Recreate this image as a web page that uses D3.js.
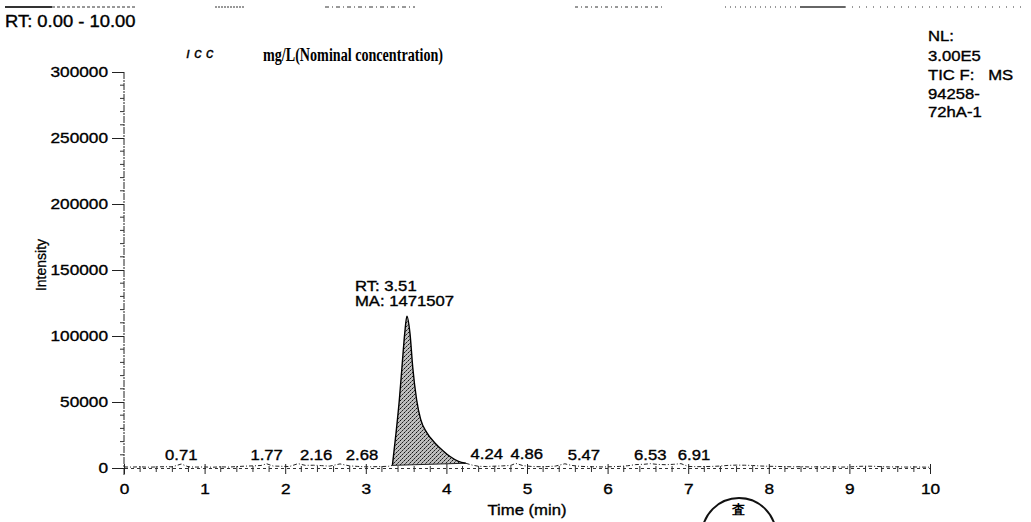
<!DOCTYPE html>
<html>
<head>
<meta charset="utf-8">
<script src="https://cdn.jsdelivr.net/npm/d3@7"></script>
<style>
  html, body { margin: 0; padding: 0; background: #fff; }
  svg { display: block; }
  text { font-family: "Liberation Sans", Arial, sans-serif; fill: #000; white-space: pre; }
</style>
</head>
<body>
<svg id="chart" width="1031" height="522"></svg>
<script>
// Total ion chromatogram, RT 0-10 min
const traceTime = [
  0.00, 0.10, 0.20, 0.30, 0.40, 0.50, 0.60, 0.71, 0.80, 0.90,
  1.00, 1.10, 1.20, 1.30, 1.40, 1.50, 1.60, 1.70, 1.77, 1.85,
  1.95, 2.05, 2.16, 2.25, 2.35, 2.45, 2.55, 2.68, 2.80, 2.90,
  3.00, 3.10, 3.20, 3.28, 3.33, 3.375, 3.416, 3.449, 3.483, 3.51,
  3.548, 3.582, 3.631, 3.68, 3.755, 3.857, 3.95, 4.05, 4.15, 4.24,
  4.32, 4.40, 4.50, 4.60, 4.70, 4.80, 4.86, 4.95, 5.05, 5.15,
  5.25, 5.35, 5.47, 5.55, 5.65, 5.75, 5.85, 5.95, 6.05, 6.15,
  6.25, 6.35, 6.45, 6.53, 6.62, 6.72, 6.82, 6.91, 7.00, 7.10,
  7.20, 7.30, 7.40, 7.50, 7.60, 7.70, 7.80, 7.90, 8.00, 8.10,
  8.20, 8.30, 8.40, 8.50, 8.60, 8.70, 8.80, 8.90, 9.00, 9.10,
  9.20, 9.30, 9.40, 9.50, 9.60, 9.70, 9.80, 9.90, 10.00
];
const traceIntensity = [
  800, 700, 900, 600, 800, 1000, 900, 3000, 900, 700,
  800, 600, 900, 700, 1100, 1400, 1600, 1900, 3200, 1500,
  1300, 1100, 3300, 2000, 2100, 1800, 1400, 3100, 1600, 1200,
  900, 1000, 1100, 1300, 2000, 26500, 51500, 76500, 102000, 115000,
  102000, 76500, 51500, 37000, 27000, 19000, 13500, 8500, 5000, 3600,
  2200, 1300, 1100, 1400, 1600, 2000, 3500, 1800, 1200, 1000,
  1100, 1400, 3200, 2000, 1300, 1000, 900, 800, 1000, 1200,
  1700, 2600, 2800, 3300, 2700, 2500, 2800, 3300, 1200, 1000,
  1100, 1200, 1500, 2000, 2200, 2100, 1900, 1500, 1300, 1200,
  1000, 900, 1000, 800, 900, 800, 900, 700, 800, 1200,
  1400, 1300, 1000, 800, 900, 700, 800, 700, 600
];

// Labelled retention times of the minor peaks
const peakLabelTimes = [0.71, 1.77, 2.16, 2.68, 4.24, 4.86, 5.47, 6.53, 6.91];

// Main peak annotation
const mainPeakRT = 3.51;
const mainPeakArea = 1471507;
const integStart = 3.33, integEnd = 4.24;

// Axis ticks
const xTicks = [0, 1, 2, 3, 4, 5, 6, 7, 8, 9, 10];
const yTicks = [0, 50000, 100000, 150000, 200000, 250000, 300000];

// Header / side texts
const rangeLabel = "RT: 0.00 - 10.00";
const noteHand = "ı c c";
const noteTyped = "mg/L(Nominal concentration)";
const sideLines = ["NL:", "3.00E5", "TIC F:   MS", "94258-", "72hA-1"];

const SX = 1.15; // horizontal stretch of the printed lettering
const svg = d3.select("#chart");

const x = d3.scaleLinear().domain([0, 10]).range([124, 930]);
const y = d3.scaleLinear().domain([0, 300000]).range([468, 72]);

function stretched(g, tx, ty, str, anchor, size) {
  return g.append("text")
    .attr("transform", `translate(${tx},${ty}) scale(${SX},1)`)
    .attr("text-anchor", anchor || "start")
    .attr("font-size", size || 15)
    .attr("stroke", "#000").attr("stroke-width", 0.35)
    .text(str);
}

// stipple fill for the integrated peak
const defs = svg.append("defs");
const pat = defs.append("pattern").attr("id", "stipple")
  .attr("patternUnits", "userSpaceOnUse").attr("width", 4).attr("height", 4);
pat.append("rect").attr("width", 4).attr("height", 4).attr("fill", "#bdbdbd");
pat.append("rect").attr("x", 0).attr("y", 0).attr("width", 1).attr("height", 1).attr("fill", "#111");
pat.append("rect").attr("x", 2).attr("y", 2).attr("width", 1).attr("height", 1).attr("fill", "#222");
pat.append("rect").attr("x", 3).attr("y", 1).attr("width", 1).attr("height", 1).attr("fill", "#666");
pat.append("rect").attr("x", 1).attr("y", 3).attr("width", 1).attr("height", 1).attr("fill", "#555");

// faint remnants of the page header
const frag = svg.append("g").attr("stroke", "#333");
[[5, 52, 2, null], [52, 135, 1, "3,2"], [215, 245, 1, "2,1"], [325, 415, 1, "4,3,1,3"],
 [575, 665, 1, "3,3,1,3"], [725, 800, 1, "1,4"], [800, 845, 1.5, null], [845, 1025, 1, "1,6"]]
  .forEach(([a, b, w, dash]) => {
    frag.append("line").attr("x1", a).attr("x2", b).attr("y1", 7).attr("y2", 7)
      .attr("stroke-width", w).attr("stroke-dasharray", dash);
  });

// header text
stretched(svg, 5, 27, rangeLabel, "start", 16);
svg.append("text").attr("x", 186).attr("y", 58)
  .attr("font-family", "Liberation Serif, serif").attr("font-style", "italic")
  .attr("font-size", 15).attr("stroke", "#000").attr("stroke-width", 0.3).text(noteHand);
svg.append("text").attr("x", 263).attr("y", 61)
  .attr("font-size", 18).attr("font-weight", "bold")
  .attr("textLength", 180).attr("lengthAdjust", "spacingAndGlyphs")
  .style("font-family", "'Liberation Serif', serif").text(noteTyped);

const sideY = [41, 61, 80, 99, 117];
sideLines.forEach((s, i) => stretched(svg, 928, sideY[i], s, "start", 14.5));

// y axis
const yAxis = svg.append("g").attr("transform", `translate(${x(0)},0)`)
  .call(d3.axisLeft(y).tickValues(yTicks).tickFormat(d3.format("d"))
    .tickSize(12).tickPadding(4));
yAxis.select(".domain").remove();
yAxis.append("line").attr("x1", 0).attr("x2", 0).attr("y1", y(300000)).attr("y2", y(0) + 8)
  .attr("stroke", "#222").attr("stroke-dasharray", "7,1,2,1");
yAxis.selectAll(".tick line").attr("stroke", "#222");
yAxis.selectAll(".tick text")
  .attr("font-size", 15).attr("fill", "#000").attr("stroke", "#000").attr("stroke-width", 0.35)
  .attr("font-family", "Liberation Sans, Arial, sans-serif")
  .attr("x", -16 / SX).attr("transform", `scale(${SX},1)`);
// minor y ticks
yAxis.selectAll(".minor").data(d3.range(10000, 300000, 10000).filter(v => v % 50000))
  .enter().append("line").attr("class", "minor")
  .attr("x1", -4).attr("x2", 0).attr("y1", d => y(d)).attr("y2", d => y(d))
  .attr("stroke", "#333");

// x axis
const xAxis = svg.append("g").attr("transform", `translate(0,${y(0)})`)
  .call(d3.axisBottom(x).tickValues(xTicks).tickFormat(d3.format("d"))
    .tickSize(6).tickPadding(9));
xAxis.select(".domain").attr("stroke", "#333").attr("stroke-dasharray", "3,3");
xAxis.selectAll(".tick line").attr("stroke", "#222").attr("y1", -4);
xAxis.selectAll(".tick text")
  .attr("font-size", 15).attr("fill", "#000").attr("stroke", "#000").attr("stroke-width", 0.35)
  .attr("font-family", "Liberation Sans, Arial, sans-serif")
  .attr("transform", `scale(${SX},1)`).attr("x", 0);
// minor x ticks
xAxis.selectAll(".minor").data(d3.range(0.2, 10, 0.2).filter(v => Math.abs(v - Math.round(v)) > 0.01))
  .enter().append("line").attr("class", "minor")
  .attr("x1", d => x(d)).attr("x2", d => x(d)).attr("y1", -2).attr("y2", 4)
  .attr("stroke", "#333");

// axis titles
stretched(svg, x(5), 515, "Time (min)", "middle", 14.5);
svg.append("text").attr("transform", `translate(46,265) rotate(-90)`)
  .attr("text-anchor", "middle").attr("font-size", 14)
  .attr("stroke", "#000").attr("stroke-width", 0.3).text("Intensity");

// chromatogram
const pts = traceTime.map((t, i) => ({ t, v: traceIntensity[i] }));
const line = d3.line().x(d => x(d.t)).y(d => y(d.v));
const smooth = d3.line().x(d => x(d.t)).y(d => y(d.v)).curve(d3.curveMonotoneX);

const peakPts = pts.filter(d => d.t >= integStart && d.t <= integEnd);
const baseA = peakPts[0], baseB = peakPts[peakPts.length - 1];
const baseAt = t => baseA.v + (baseB.v - baseA.v) * (t - baseA.t) / (baseB.t - baseA.t);
const area = d3.area().x(d => x(d.t)).y0(d => y(baseAt(d.t))).y1(d => y(d.v)).curve(d3.curveMonotoneX);
svg.append("path").datum(peakPts).attr("d", area).attr("fill", "url(#stipple)");
svg.append("line").attr("x1", x(baseA.t)).attr("x2", x(baseB.t))
  .attr("y1", y(baseA.v)).attr("y2", y(baseB.v)).attr("stroke", "#222");

svg.append("path").datum(pts.filter(d => d.t <= integStart)).attr("d", line)
  .attr("fill", "none").attr("stroke", "#222").attr("stroke-dasharray", "4,2,1,2");
svg.append("path").datum(pts.filter(d => d.t >= integEnd)).attr("d", line)
  .attr("fill", "none").attr("stroke", "#222").attr("stroke-dasharray", "4,2,1,2");
svg.append("path").datum(peakPts).attr("d", smooth)
  .attr("fill", "none").attr("stroke", "#000").attr("stroke-width", 1.4);

// main peak annotation
const apex = pts.find(d => d.t === mainPeakRT);
stretched(svg, x(apex.t) - 52, y(apex.v) - 25, "RT: " + mainPeakRT.toFixed(2), "start", 14.5);
stretched(svg, x(apex.t) - 52, y(apex.v) - 10, "MA: " + mainPeakArea, "start", 14.5);

// minor peak labels (nudged sideways where they would crowd the trace)
const labelNudge = [0, 0, 18, 22, 21, 11, 19, 0, 13];
peakLabelTimes.forEach((t, i) => {
  const p = pts.find(d => d.t === t);
  stretched(svg, x(t) + labelNudge[i], y(p.v) - 4, t.toFixed(2), "middle", 14.5);
});

// approval stamp at the page foot
const stamp = svg.append("g");
stamp.append("circle").attr("cx", 739).attr("cy", 535).attr("r", 37)
  .attr("fill", "none").attr("stroke", "#111").attr("stroke-width", 2);
stamp.append("text").attr("x", 738).attr("y", 514).attr("text-anchor", "middle")
  .attr("font-family", "Noto Sans CJK JP").attr("font-weight", "bold")
  .attr("font-size", 13).text("査");
</script>
</body>
</html>
